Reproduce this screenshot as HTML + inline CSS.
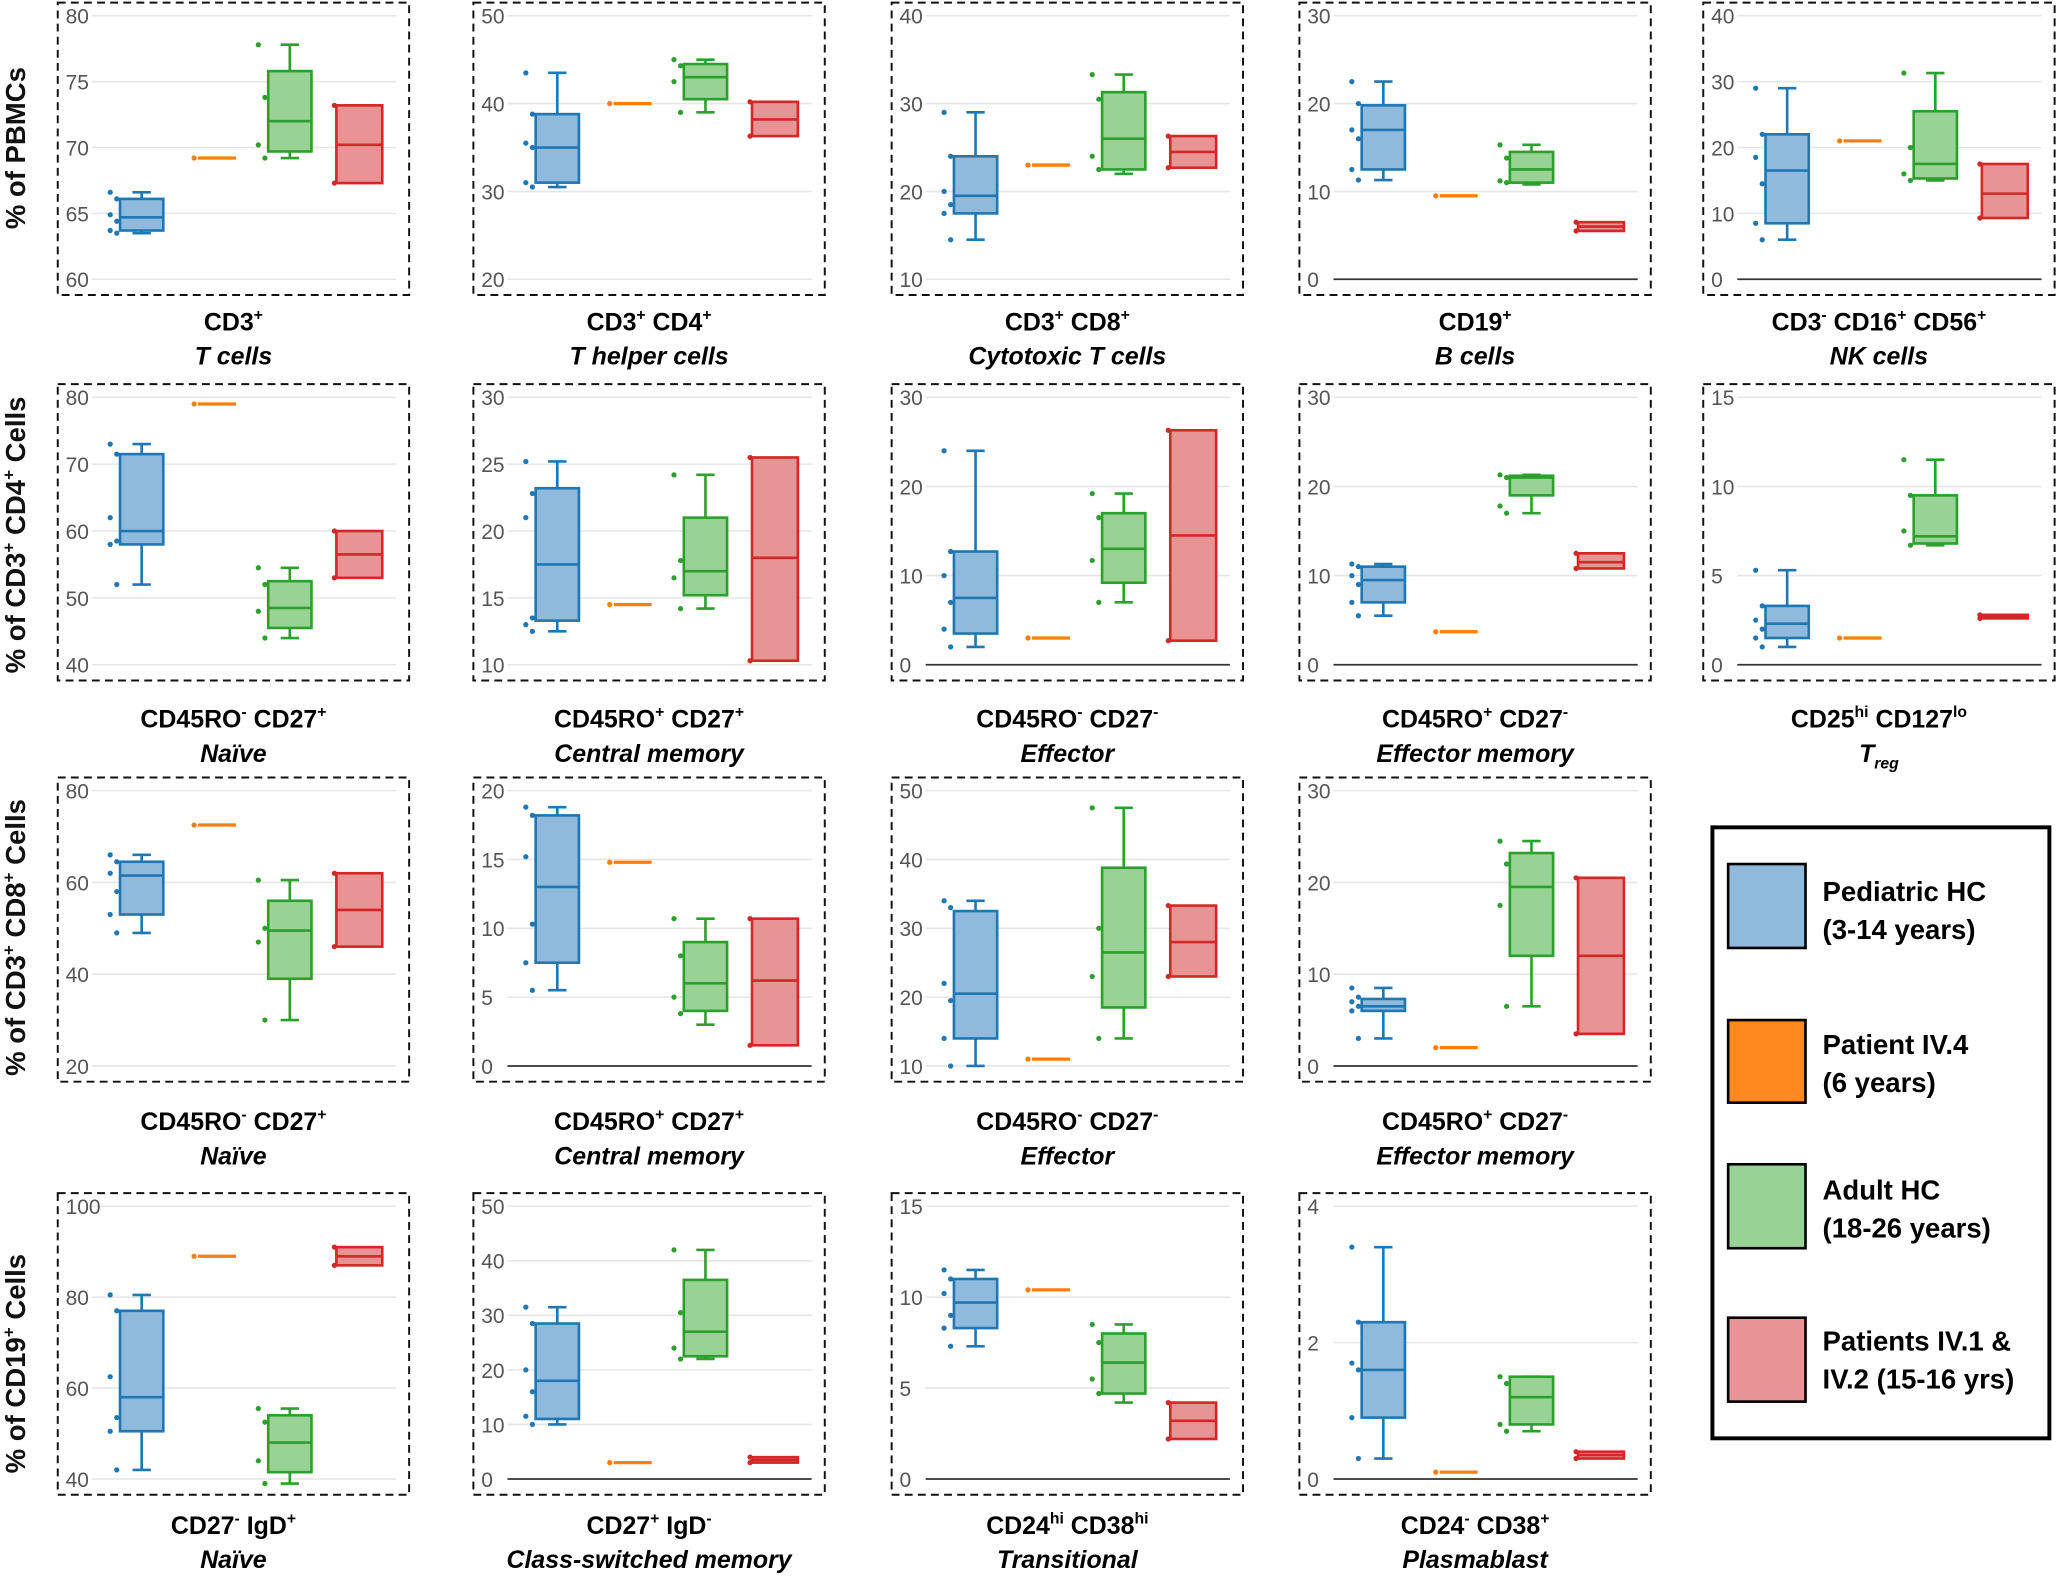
<!DOCTYPE html>
<html><head><meta charset="utf-8"><style>
html,body{margin:0;padding:0;background:#fff}
svg{display:block}
text{font-family:"Liberation Sans",Arial,sans-serif}
</style></head><body>
<svg id="fig" width="2056" height="1576" viewBox="0 0 1568 1202" xmlns="http://www.w3.org/2000/svg">
<g font-weight="bold" font-size="21" fill="#111">
<text transform="translate(19,113) rotate(-90)" text-anchor="middle">% of PBMCs</text>
<text transform="translate(19,408) rotate(-90)" text-anchor="middle">% of CD3<tspan font-size="13" dy="-8">+</tspan><tspan dy="8"> CD4</tspan><tspan font-size="13" dy="-8">+</tspan><tspan dy="8"> Cells</tspan></text>
<text transform="translate(19,715) rotate(-90)" text-anchor="middle">% of CD3<tspan font-size="13" dy="-8">+</tspan><tspan dy="8"> CD8</tspan><tspan font-size="13" dy="-8">+</tspan><tspan dy="8"> Cells</tspan></text>
<text transform="translate(19,1040) rotate(-90)" text-anchor="middle">% of CD19<tspan font-size="13" dy="-8">+</tspan><tspan dy="8"> Cells</tspan></text>
</g>
<g>
<rect x="1306" y="631" width="257" height="466" fill="none" stroke="#000" stroke-width="3"/>
<rect x="1318" y="659" width="59" height="64" fill="#8fbadb" stroke="#000" stroke-width="2"/>
<rect x="1318" y="778" width="59" height="63" fill="#ff891f" stroke="#000" stroke-width="2"/>
<rect x="1318" y="888" width="59" height="64" fill="#98d294" stroke="#000" stroke-width="2"/>
<rect x="1318" y="1005" width="59" height="64" fill="#e89394" stroke="#000" stroke-width="2"/>
<g font-weight="bold" font-size="21" fill="#000">
<text x="1390" y="687">Pediatric HC<tspan x="1390" dy="29">(3-14 years)</tspan></text>
<text x="1390" y="804">Patient IV.4<tspan x="1390" dy="29">(6 years)</tspan></text>
<text x="1390" y="915">Adult HC<tspan x="1390" dy="29">(18-26 years)</tspan></text>
<text x="1390" y="1030">Patients IV.1 &amp;<tspan x="1390" dy="29">IV.2 (15-16 yrs)</tspan></text>
</g>
</g>
</svg>
<script>
const titleLine1 = ["CD3^+","CD3^+ CD4^+","CD3^+ CD8^+","CD19^+","CD3^- CD16^+ CD56^+",
"CD45RO^- CD27^+","CD45RO^+ CD27^+","CD45RO^- CD27^-","CD45RO^+ CD27^-","CD25^{hi} CD127^{lo}",
"CD45RO^- CD27^+","CD45RO^+ CD27^+","CD45RO^- CD27^-","CD45RO^+ CD27^-",
"CD27^- IgD^+","CD27^+ IgD^-","CD24^{hi} CD38^{hi}","CD24^- CD38^+"];
const titleLine2 = ["T cells","T helper cells","Cytotoxic T cells","B cells","NK cells",
"Naïve","Central memory","Effector","Effector memory","T_{reg}",
"Naïve","Central memory","Effector","Effector memory",
"Naïve","Class-switched memory","Transitional","Plasmablast"];
const tickMin = [60,20,10,0,0, 40,10,0,0,0, 20,0,10,0, 40,0,0,0];
const tickMax = [80,50,40,30,40, 80,30,30,30,15, 80,20,50,30, 100,50,15,4];
const tickStep = [5,10,10,10,10, 10,5,10,10,5, 20,5,10,10, 20,10,5,2];
// [low whisker, q1, median, q3, high whisker]
const blueStats = [[63.5,63.7,64.7,66.1,66.6],[30.5,31,35,38.8,43.5],[14.5,17.5,19.5,24,29],[11.3,12.5,17,19.8,22.5],[6,8.5,16.5,22,29],
[52,58,60,71.5,73],[12.5,13.3,17.5,23.2,25.2],[2,3.5,7.5,12.7,24],[5.5,7,9.5,11,11.3],[1,1.5,2.3,3.3,5.3],
[49,53,61.5,64.5,66],[5.5,7.5,13,18.2,18.8],[10,14,20.5,32.5,34],[3,6,6.5,7.3,8.5],
[42,50.5,58,77,80.5],[10,11,18,28.5,31.5],[7.3,8.3,9.7,11,11.5],[0.3,0.9,1.6,2.3,3.4]];
const bluePts = [[66.6,66.1,64.9,64.4,63.7,63.5],[43.5,38.8,35.5,35,31,30.5],[29,24,20,18.5,17.5,14.5],[22.5,20,17,16,12.5,11.3],[29,22,18.5,14.5,8.5,6],
[73,71.5,62,58.5,58,52],[25.2,22.8,21,13.5,13,12.5],[24,12.7,10,7,4,2],[11.3,11,10,9,7,5.5],[5.3,3.3,2.5,2,1.5,1],
[66,64.5,62,58,53,49],[18.8,18.2,15.2,10.3,7.5,5.5],[34,33,22,19.5,14,10],[8.5,7.5,7,6.5,6,3],
[80.5,77,62.5,53.5,50.5,42],[31.5,28.5,20,16,11.5,10],[11.5,11,10.2,9,8.3,7.3],[3.4,2.3,1.7,1.6,0.9,0.3]];
const orangeVals = [69.2,40,23,9.5,21, 79,14.5,3,3.7,1.5, 72.5,14.8,11,2, 89,3,10.4,0.1];
const greenStats = [[69.2,69.7,72,75.8,77.8],[39,40.5,43,44.5,45],[22,22.5,26,31.3,33.3],[10.8,11,12.5,14.5,15.3],[15,15.3,17.5,25.5,31.3],
[44,45.5,48.5,52.5,54.5],[14.2,15.2,17,21,24.2],[7,9.2,13,17,19.2],[17,19,21,21.2,21.3],[6.7,6.8,7.2,9.5,11.5],
[30,39,49.5,56,60.5],[3,4,6,9,10.7],[14,18.5,26.5,38.8,47.5],[6.5,12,19.5,23.2,24.5],
[39,41.5,48,54,55.5],[22,22.5,27,36.5,42],[4.2,4.7,6.4,8,8.5],[0.7,0.8,1.2,1.5,1.5]];
const greenPts = [[77.8,73.8,70.2,69.2],[45,44.3,42.5,39],[33.3,30.5,24,22.5],[15.3,13.8,11.2,11],[31.3,20,16,15],
[54.5,52,48,44],[24.2,17.8,16.5,14.2],[19.2,16.5,11.7,7],[21.3,21,17.8,17],[11.5,9.5,7.5,6.7],
[60.5,50,47,30],[10.7,8,5,3.8],[47.5,30,23,14],[24.5,22,17.5,6.5],
[55.5,52.5,44,39],[42,30.5,24,22],[8.5,7.5,5.5,4.7],[1.5,1.4,0.8,0.7]];
// [min, median, max]
const redStats = [[67.3,70.2,73.2],[36.3,38.2,40.2],[22.7,24.5,26.3],[5.5,6,6.5],[9.3,13,17.5],
[53,56.5,60],[10.3,18,25.5],[2.7,14.5,26.3],[10.8,11.5,12.5],[2.6,2.7,2.8],
[46,54,62],[1.5,6.2,10.7],[23,28,33.3],[3.5,12,20.5],
[87,89,91],[3,3.5,4],[2.2,3.2,4.2],[0.3,0.35,0.4]];

const NS = "http://www.w3.org/2000/svg";
const svg = document.getElementById('fig');
const colX = [44,361,680,991,1299];
const rowY = [2,293,593,910];
const rowH = [223,226,232,230];
const rowTitleY = [245,548,855,1163];
const PW = 268;
const C = {blue:["#1f77b4","#8fbadb"],orange:["#ff7f0e","#ff7f0e"],green:["#2ca02c","#98d294"],red:["#d62728","#e89394"]};

function mk(tag, attrs, parent){const e=document.createElementNS(NS,tag);for(const k in attrs)e.setAttribute(k,attrs[k]);parent.appendChild(e);return e;}
function richText(t, str){
  const re=/\^\{([^}]*)\}|\^(.)|_\{([^}]*)\}|([^^_]+)/g;let m;let shift=0;
  while((m=re.exec(str))){
    const ts=document.createElementNS(NS,'tspan');
    if(m[1]!==undefined||m[2]!==undefined){ts.textContent=(m[1]!==undefined?m[1]:m[2]);ts.setAttribute('font-size','12');ts.setAttribute('dy',String(-8-shift));shift=-8;}
    else if(m[3]!==undefined){ts.textContent=m[3];ts.setAttribute('font-size','12');ts.setAttribute('dy',String(5-shift));shift=5;}
    else {ts.textContent=m[4];ts.setAttribute('dy',String(-shift));shift=0;}
    t.appendChild(ts);
  }
}

const panelIdx=[[0,0],[0,1],[0,2],[0,3],[0,4],[1,0],[1,1],[1,2],[1,3],[1,4],[2,0],[2,1],[2,2],[2,3],[3,0],[3,1],[3,2],[3,3]];
panelIdx.forEach(([r,c],i)=>{
  const x0=colX[c], y0=rowY[r], h=rowH[r];
  const g=mk('g',{},svg);
  
  
  const yTop=y0+10, yBot=y0+h-12;
  const yScale=v=>yBot-(v-tickMin[i])/(tickMax[i]-tickMin[i])*(yBot-yTop);
  for(let v=tickMin[i]; v<=tickMax[i]+1e-9; v+=tickStep[i]){
    const y=yScale(v);
    const gl=mk('line',{x1:x0+26,x2:x0+258,y1:y,y2:y,stroke:(v===0?'#333':'#e6e6e6'),'stroke-width':(v===0?1.3:1.2)},g);
    
    
    const tl=mk('text',{x:x0+6,y:y+6,'font-size':16,fill:'#555'},g);
    tl.textContent=String(v);
    
    
  }
  const fr=mk('rect',{x:x0,y:y0,width:PW,height:h,fill:'none',stroke:'#111','stroke-width':1.5,'stroke-dasharray':'6,4'},g);
  
  
  function box(name,cx,st,pts,col,whisk){
    const bg=mk('g',{},g);
    
    
    const [sc,fc]=C[col];
    let lo,q1,md,q3,hi;
    if(whisk){[lo,q1,md,q3,hi]=st;}else{[q1,md,q3]=st;}
    if(whisk){
      mk('line',{x1:cx,x2:cx,y1:yScale(hi),y2:yScale(q3),stroke:sc,'stroke-width':2},bg);
      mk('line',{x1:cx,x2:cx,y1:yScale(q1),y2:yScale(lo),stroke:sc,'stroke-width':2},bg);
      mk('line',{x1:cx-7,x2:cx+7,y1:yScale(hi),y2:yScale(hi),stroke:sc,'stroke-width':2},bg);
      mk('line',{x1:cx-7,x2:cx+7,y1:yScale(lo),y2:yScale(lo),stroke:sc,'stroke-width':2},bg);
    }
    const bw=whisk?33:35;
    const yq3=yScale(q3), yq1=yScale(q1);
    mk('rect',{x:cx-bw/2,y:yq3,width:bw,height:Math.max(yq1-yq3,2),fill:fc,stroke:sc,'stroke-width':2},bg);
    mk('line',{x1:cx-bw/2,x2:cx+bw/2,y1:yScale(md),y2:yScale(md),stroke:sc,'stroke-width':2},bg);
    pts.forEach((v,k)=>{
      const dx=col==='red'?-19:(k%2===0?-24:-19);
      const p=mk('circle',{cx:cx+dx,cy:yScale(v),r:2,fill:sc},bg);
      
      
    });
  }
  box('box-pediatric-hc',x0+64,blueStats[i],bluePts[i],'blue',true);
  box('box-adult-hc',x0+177,greenStats[i],greenPts[i],'green',true);
  box('box-patients-iv1-iv2',x0+230,redStats[i],[redStats[i][2],redStats[i][0]],'red',false);
  const og=mk('g',{},g);
  
  
  const oy=yScale(orangeVals[i]);
  mk('line',{x1:x0+107,x2:x0+136,y1:oy,y2:oy,stroke:'#ff7f0e','stroke-width':2.5},og);
  mk('circle',{cx:x0+104,cy:oy,r:2,fill:'#ff7f0e'},og);
  const cx=x0+PW/2, ty=rowTitleY[r];
  const t1=mk('text',{x:cx,y:ty+7,'text-anchor':'middle','font-size':19,'font-weight':'bold',fill:'#000'},g);
  
  
  richText(t1,titleLine1[i]);
  const t2=mk('text',{x:cx,y:ty+33,'text-anchor':'middle','font-size':19,'font-weight':'bold','font-style':'italic',fill:'#000'},g);
  
  
  richText(t2,titleLine2[i]);
});
</script>
</body></html>
